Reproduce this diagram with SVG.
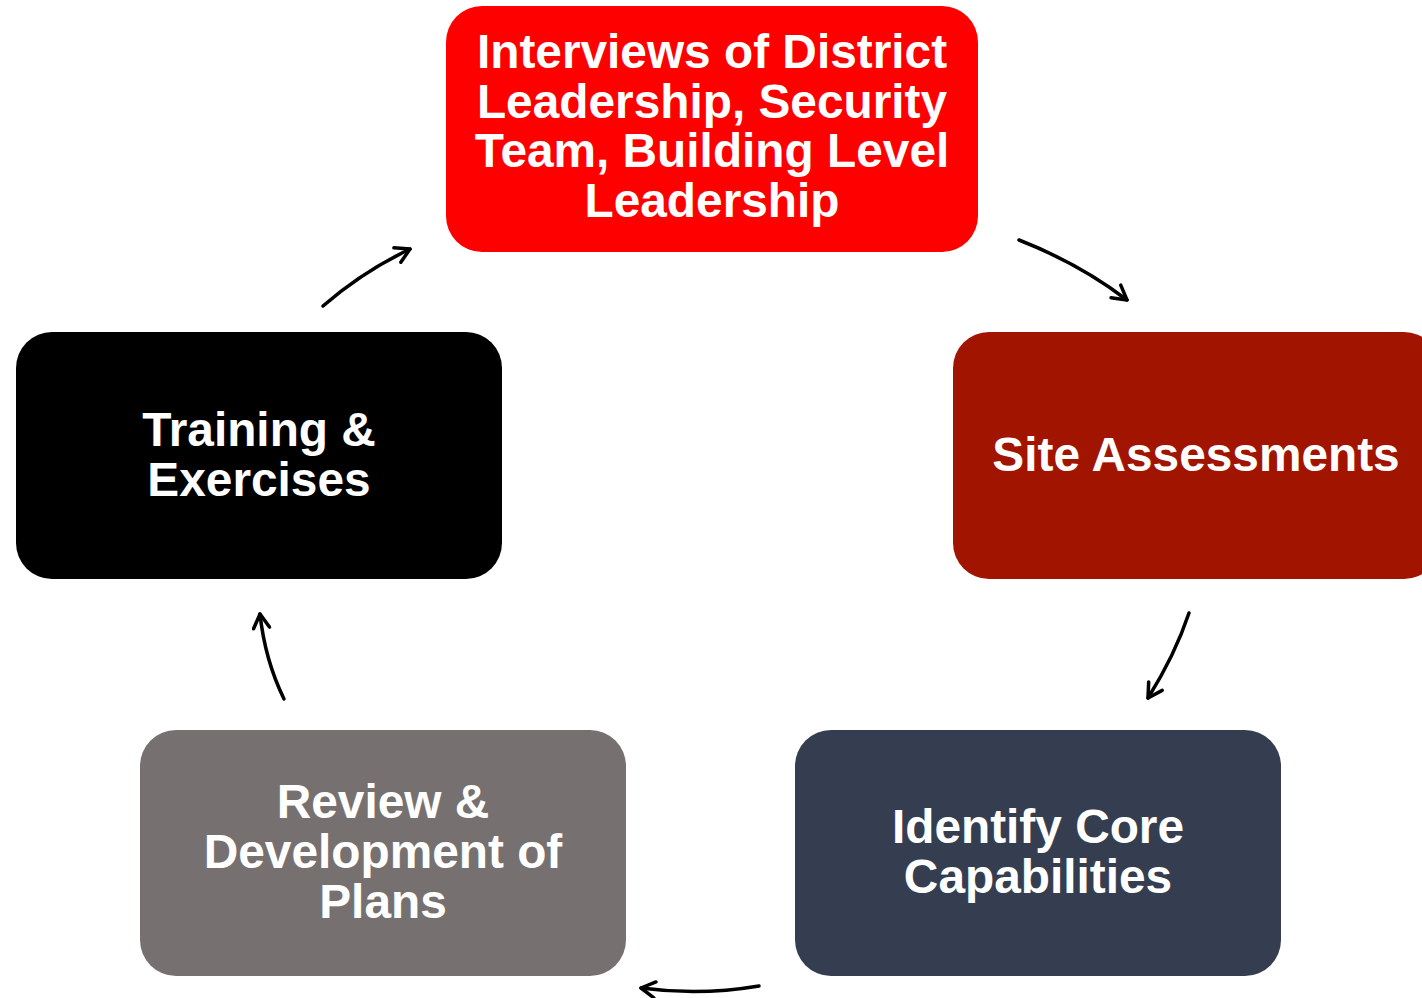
<svg xmlns="http://www.w3.org/2000/svg" width="1422" height="998" viewBox="0 0 1422 998">
<style>
.lbl{font-family:"Liberation Sans",Arial,sans-serif;font-weight:bold;font-size:47.8px;fill:#fff;text-anchor:middle}
.con{fill:none;stroke:#000;stroke-width:3.5;stroke-linecap:round;marker-end:url(#ah)}
</style>
<defs>
<marker id="ah" viewBox="0 0 20 20" refX="17" refY="10" markerWidth="20" markerHeight="20" markerUnits="userSpaceOnUse" orient="auto">
<path d="M3,2 L17,10 L3,18" fill="none" stroke="#000" stroke-width="3.5" stroke-linecap="round" stroke-linejoin="round"/>
</marker>
</defs>
<rect width="1422" height="998" fill="#fff"/>
<g id="connectors">
<path class="con" d="M1019,240 Q1080,264 1127,300"/>
<path class="con" d="M1189,613 Q1175,655 1148,698"/>
<path class="con" d="M759,986 Q700,996 641,988"/>
<path class="con" d="M284,699 Q265,660 260,614"/>
<path class="con" d="M323,306 Q362,272 410,249"/>
</g>
<g id="node-interviews">
<rect x="446" y="6" width="532" height="246" rx="36" fill="#ff0000"/>
<text class="lbl" x="712" y="68">Interviews of District</text>
<text class="lbl" x="712" y="118">Leadership, Security</text>
<text class="lbl" x="712" y="167">Team, Building Level</text>
<text class="lbl" x="712" y="217">Leadership</text>
</g>
<g id="node-site">
<rect x="953" y="332" width="487" height="247" rx="36" fill="#a01400"/>
<text class="lbl" x="1196" y="471">Site Assessments</text>
</g>
<g id="node-identify">
<rect x="795" y="730" width="486" height="246" rx="36" fill="#353e50"/>
<text class="lbl" x="1038" y="843">Identify Core</text>
<text class="lbl" x="1038" y="893">Capabilities</text>
</g>
<g id="node-review">
<rect x="140" y="730" width="486" height="246" rx="36" fill="#767170"/>
<text class="lbl" x="383" y="818">Review &amp;</text>
<text class="lbl" x="383" y="868">Development of</text>
<text class="lbl" x="383" y="918">Plans</text>
</g>
<g id="node-training">
<rect x="16" y="332" width="486" height="247" rx="36" fill="#000"/>
<text class="lbl" x="259" y="446">Training &amp;</text>
<text class="lbl" x="259" y="496">Exercises</text>
</g>
</svg>
